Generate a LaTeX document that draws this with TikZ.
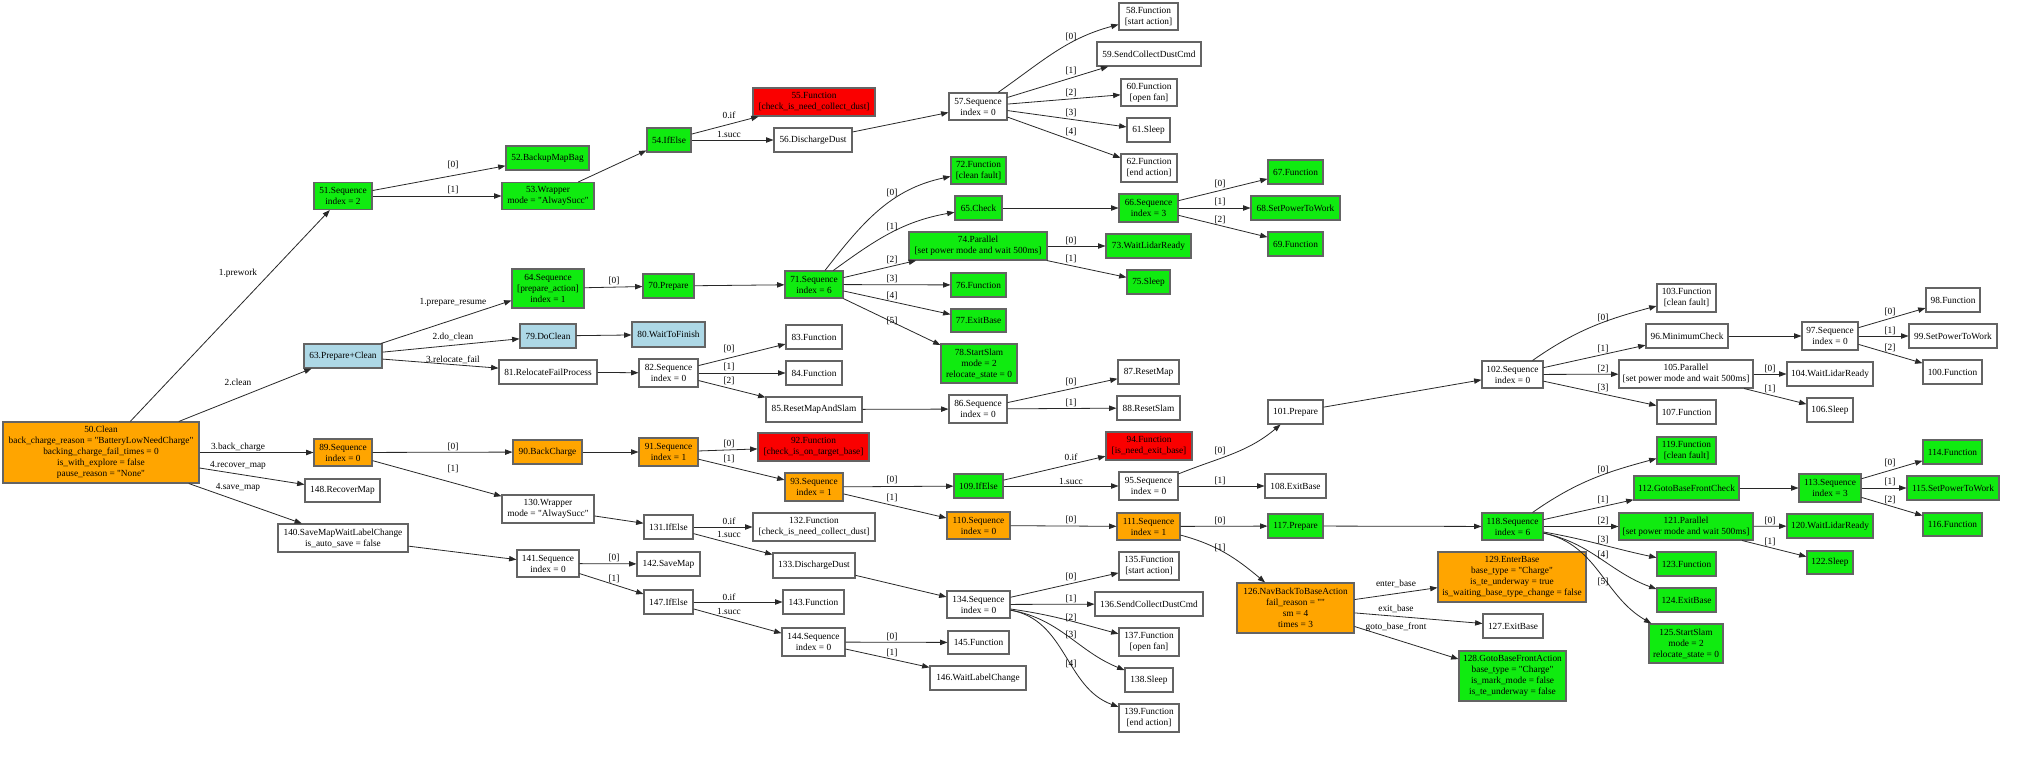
\documentclass[tikz,border=0pt]{standalone}
\usepackage{fontspec}
\setmainfont{Liberation Serif}
\usetikzlibrary{arrows.meta}
\definecolor{gfill}{RGB}{16,235,16}
\definecolor{ofill}{RGB}{255,165,0}
\definecolor{rfill}{RGB}{250,0,0}
\definecolor{bfill}{RGB}{173,216,230}
\definecolor{bordc}{RGB}{100,100,100}
\definecolor{edgec}{RGB}{40,40,40}
\newcommand\nodefont{\fontsize{7}{8.25}\selectfont}
\newcommand\dq{\textquotedbl}
\tikzset{
  box/.style={draw=bordc, line width=0.8pt, inner sep=0pt, align=center, font=\nodefont, fill=white},
  bx/.style 2 args={minimum width=#1*0.75pt, minimum height=#2*0.75pt},
  gn/.style={fill=gfill}, og/.style={fill=ofill}, rd/.style={fill=rfill}, lb/.style={fill=bfill},
  conn/.style={draw=edgec, line width=0.6pt, -{Triangle[length=5.5pt,width=4pt]}},
  lbl/.style={font=\nodefont, inner sep=0pt}
}
\begin{document}
\begin{tikzpicture}[x=0.75pt,y=0.75pt]
\fill[white] (0,0) rectangle (2039,-764);
\useasboundingbox (0,0) rectangle (2039,-764);
% ---- nodes
\node[box,og,bx={196}{61}] (n50) at (101,-452.5) {50.Clean\\back\_charge\_reason = \dq BatteryLowNeedCharge\dq\\backing\_charge\_fail\_times = 0\\is\_with\_explore = false\\pause\_reason = \dq None\dq};
\node[box,gn,bx={58}{27}] (n51) at (343,-196) {51.Sequence\\index = 2};
\node[box,gn,bx={83}{24}] (n52) at (547.5,-158) {52.BackupMapBag};
\node[box,gn,bx={92}{27}] (n53) at (548,-196) {53.Wrapper\\mode = \dq AlwaySucc\dq};
\node[box,gn,bx={44}{24}] (n54) at (669,-140) {54.IfElse};
\node[box,rd,bx={122}{28}] (n55) at (814,-102) {55.Function\\{[}check\_is\_need\_collect\_dust]};
\node[box,bx={78}{24}] (n56) at (813,-140) {56.DischargeDust};
\node[box,bx={58}{27}] (n57) at (978,-106.5) {57.Sequence\\index = 0};
\node[box,bx={59}{27}] (n58) at (1148.5,-16.5) {58.Function\\{[}start action]};
\node[box,bx={104}{24}] (n59) at (1149,-54) {59.SendCollectDustCmd};
\node[box,bx={56}{27}] (n60) at (1149,-92.5) {60.Function\\{[}open fan]};
\node[box,bx={43}{24}] (n61) at (1148.5,-130) {61.Sleep};
\node[box,bx={56}{28}] (n62) at (1149,-168) {62.Function\\{[}end action]};
\node[box,lb,bx={78}{24}] (n63) at (343,-356) {63.Prepare+Clean};
\node[box,gn,bx={72}{39}] (n64) at (548,-288.5) {64.Sequence\\{[}prepare\_action]\\index = 1};
\node[box,gn,bx={47}{24}] (n65) at (978.5,-208) {65.Check};
\node[box,gn,bx={59}{28}] (n66) at (1148.5,-208) {66.Sequence\\index = 3};
\node[box,gn,bx={55}{24}] (n67) at (1295.5,-172) {67.Function};
\node[box,gn,bx={89}{24}] (n68) at (1295.5,-208) {68.SetPowerToWork};
\node[box,gn,bx={55}{24}] (n69) at (1295.5,-244) {69.Function};
\node[box,gn,bx={51}{24}] (n70) at (668.5,-286) {70.Prepare};
\node[box,gn,bx={58}{27}] (n71) at (814,-284.5) {71.Sequence\\index = 6};
\node[box,gn,bx={55}{27}] (n72) at (978.5,-170.5) {72.Function\\{[}clean fault]};
\node[box,gn,bx={85}{24}] (n73) at (1148.5,-246) {73.WaitLidarReady};
\node[box,gn,bx={138}{28}] (n74) at (978,-246) {74.Parallel\\{[}set power mode and wait 500ms]};
\node[box,gn,bx={43}{24}] (n75) at (1148.5,-282) {75.Sleep};
\node[box,gn,bx={55}{24}] (n76) at (978.5,-285) {76.Function};
\node[box,gn,bx={55}{23}] (n77) at (978.5,-320.5) {77.ExitBase};
\node[box,gn,bx={76}{39}] (n78) at (979,-363.5) {78.StartSlam\\mode = 2\\relocate\_state = 0};
\node[box,lb,bx={56}{24}] (n79) at (548,-336) {79.DoClean};
\node[box,lb,bx={73}{25}] (n80) at (668.5,-334.5) {80.WaitToFinish};
\node[box,bx={98}{24}] (n81) at (548,-372) {81.RelocateFailProcess};
\node[box,bx={59}{28}] (n82) at (668.5,-373) {82.Sequence\\index = 0};
\node[box,bx={56}{24}] (n83) at (814,-337) {83.Function};
\node[box,bx={56}{24}] (n84) at (814,-373) {84.Function};
\node[box,bx={96}{25}] (n85) at (814,-409.5) {85.ResetMapAndSlam};
\node[box,bx={58}{28}] (n86) at (978,-409) {86.Sequence\\index = 0};
\node[box,bx={61}{24}] (n87) at (1148.5,-372) {87.ResetMap};
\node[box,bx={63}{24}] (n88) at (1148.5,-408) {88.ResetSlam};
\node[box,og,bx={58}{27}] (n89) at (343,-452.5) {89.Sequence\\index = 0};
\node[box,og,bx={69}{24}] (n90) at (547.5,-452) {90.BackCharge};
\node[box,og,bx={59}{28}] (n91) at (668.5,-452) {91.Sequence\\index = 1};
\node[box,rd,bx={111}{28}] (n92) at (813.5,-447) {92.Function\\{[}check\_is\_on\_target\_base]};
\node[box,og,bx={58}{28}] (n93) at (814,-487) {93.Sequence\\index = 1};
\node[box,rd,bx={86}{28}] (n94) at (1149,-446) {94.Function\\{[}is\_need\_exit\_base]};
\node[box,bx={59}{28}] (n95) at (1148.5,-486) {95.Sequence\\index = 0};
\node[box,bx={82}{24}] (n96) at (1687,-336) {96.MinimumCheck};
\node[box,bx={56}{28}] (n97) at (1830,-336) {97.Sequence\\index = 0};
\node[box,bx={54}{24}] (n98) at (1953,-300) {98.Function};
\node[box,bx={88}{24}] (n99) at (1953,-336) {99.SetPowerToWork};
\node[box,bx={59}{24}] (n100) at (1952.5,-372) {100.Function};
\node[box,bx={55}{24}] (n101) at (1295.5,-412) {101.Prepare};
\node[box,bx={61}{27}] (n102) at (1512.5,-374.5) {102.Sequence\\index = 0};
\node[box,bx={59}{28}] (n103) at (1686.5,-298) {103.Function\\{[}clean fault]};
\node[box,bx={86}{24}] (n104) at (1830,-374) {104.WaitLidarReady};
\node[box,bx={134}{28}] (n105) at (1686,-374) {105.Parallel\\{[}set power mode and wait 500ms]};
\node[box,bx={46}{24}] (n106) at (1830,-410) {106.Sleep};
\node[box,bx={59}{24}] (n107) at (1686.5,-412) {107.Function};
\node[box,bx={61}{24}] (n108) at (1295.5,-486) {108.ExitBase};
\node[box,gn,bx={49}{24}] (n109) at (978.5,-486) {109.IfElse};
\node[box,og,bx={63}{27}] (n110) at (978.5,-525.5) {110.Sequence\\index = 0};
\node[box,og,bx={63}{27}] (n111) at (1148.5,-526.5) {111.Sequence\\index = 1};
\node[box,gn,bx={105}{24}] (n112) at (1686.5,-488) {112.GotoBaseFrontCheck};
\node[box,gn,bx={62}{28}] (n113) at (1830,-488) {113.Sequence\\index = 3};
\node[box,gn,bx={59}{24}] (n114) at (1952.5,-452) {114.Function};
\node[box,gn,bx={92}{24}] (n115) at (1953,-488) {115.SetPowerToWork};
\node[box,gn,bx={59}{23}] (n116) at (1952.5,-524.5) {116.Function};
\node[box,gn,bx={55}{24}] (n117) at (1295.5,-526) {117.Prepare};
\node[box,gn,bx={61}{27}] (n118) at (1512.5,-526.5) {118.Sequence\\index = 6};
\node[box,gn,bx={59}{27}] (n119) at (1686.5,-450.5) {119.Function\\{[}clean fault]};
\node[box,gn,bx={86}{24}] (n120) at (1830,-526) {120.WaitLidarReady};
\node[box,gn,bx={134}{27}] (n121) at (1686,-526.5) {121.Parallel\\{[}set power mode and wait 500ms]};
\node[box,gn,bx={46}{23}] (n122) at (1830,-562.5) {122.Sleep};
\node[box,gn,bx={59}{24}] (n123) at (1686.5,-564) {123.Function};
\node[box,gn,bx={59}{24}] (n124) at (1686.5,-600) {124.ExitBase};
\node[box,gn,bx={74}{39}] (n125) at (1686,-643.5) {125.StartSlam\\mode = 2\\relocate\_state = 0};
\node[box,og,bx={117}{50}] (n126) at (1295.5,-608) {126.NavBackToBaseAction\\fail\_reason = \dq\dq\\sm = 4\\times = 3};
\node[box,bx={60}{24}] (n127) at (1513,-626) {127.ExitBase};
\node[box,gn,bx={107}{50}] (n128) at (1512.5,-676) {128.GotoBaseFrontAction\\base\_type = \dq Charge\dq\\is\_mark\_mode = false\\is\_te\_underway = false};
\node[box,og,bx={148}{50}] (n129) at (1512,-577) {129.EnterBase\\base\_type = \dq Charge\dq\\is\_te\_underway = true\\is\_waiting\_base\_type\_change = false};
\node[box,bx={92}{28}] (n130) at (548,-509) {130.Wrapper\\mode = \dq AlwaySucc\dq};
\node[box,bx={49}{24}] (n131) at (668.5,-527) {131.IfElse};
\node[box,bx={122}{28}] (n132) at (814,-527) {132.Function\\{[}check\_is\_need\_collect\_dust]};
\node[box,bx={82}{25}] (n133) at (814,-565.5) {133.DischargeDust};
\node[box,bx={63}{27}] (n134) at (978.5,-604.5) {134.Sequence\\index = 0};
\node[box,bx={60}{28}] (n135) at (1149,-566) {135.Function\\{[}start action]};
\node[box,bx={108}{24}] (n136) at (1149,-604) {136.SendCollectDustCmd};
\node[box,bx={60}{28}] (n137) at (1149,-642) {137.Function\\{[}open fan]};
\node[box,bx={48}{24}] (n138) at (1149,-680) {138.Sleep};
\node[box,bx={60}{28}] (n139) at (1149,-718) {139.Function\\{[}end action]};
\node[box,bx={130}{28}] (n140) at (343,-538) {140.SaveMapWaitLabelChange\\is\_auto\_save = false};
\node[box,bx={62}{27}] (n141) at (548,-563.5) {141.Sequence\\index = 0};
\node[box,bx={63}{24}] (n142) at (668.5,-564) {142.SaveMap};
\node[box,bx={61}{24}] (n143) at (813.5,-602) {143.Function};
\node[box,bx={63}{28}] (n144) at (813.5,-642) {144.Sequence\\index = 0};
\node[box,bx={61}{23}] (n145) at (978.5,-642.5) {145.Function};
\node[box,bx={96}{24}] (n146) at (978,-678) {146.WaitLabelChange};
\node[box,bx={49}{24}] (n147) at (668.5,-602) {147.IfElse};
\node[box,bx={75}{23}] (n148) at (342.5,-490.5) {148.RecoverMap};
% ---- edges
\draw[conn] (n50) -- (n51);
\draw[conn] (n50) -- (n63);
\draw[conn] (n50) -- (n89);
\draw[conn] (n50) -- (n148);
\draw[conn] (n50) -- (n140);
\draw[conn] (n51) -- (n52);
\draw[conn] (n51) -- (n53);
\draw[conn] (n53) -- (n54);
\draw[conn] (n54) -- (n55);
\draw[conn] (n54) -- (n56);
\draw[conn] (n56) -- (n57);
\draw[conn] (n57) to[out=35,in=195] (n58);
\draw[conn] (n57) -- (n59);
\draw[conn] (n57) -- (n60);
\draw[conn] (n57) -- (n61);
\draw[conn] (n57) -- (n62);
\draw[conn] (n63) -- (n64);
\draw[conn] (n63) -- (n79);
\draw[conn] (n63) -- (n81);
\draw[conn] (n64) -- (n70);
\draw[conn] (n70) -- (n71);
\draw[conn] (n71) to[out=52,in=192] (n72);
\draw[conn] (n71) to[out=36,in=190] (n65);
\draw[conn] (n71) -- (n74);
\draw[conn] (n71) -- (n76);
\draw[conn] (n71) -- (n77);
\draw[conn] (n71) -- (n78);
\draw[conn] (n65) -- (n66);
\draw[conn] (n66) -- (n67);
\draw[conn] (n66) -- (n68);
\draw[conn] (n66) -- (n69);
\draw[conn] (n74) -- (n73);
\draw[conn] (n74) -- (n75);
\draw[conn] (n79) -- (n80);
\draw[conn] (n81) -- (n82);
\draw[conn] (n82) -- (n83);
\draw[conn] (n82) -- (n84);
\draw[conn] (n82) -- (n85);
\draw[conn] (n85) -- (n86);
\draw[conn] (n86) -- (n87);
\draw[conn] (n86) -- (n88);
\draw[conn] (n89) -- (n90);
\draw[conn] (n89) -- (n130);
\draw[conn] (n90) -- (n91);
\draw[conn] (n91) -- (n92);
\draw[conn] (n91) -- (n93);
\draw[conn] (n93) -- (n109);
\draw[conn] (n93) -- (n110);
\draw[conn] (n109) -- (n94);
\draw[conn] (n109) -- (n95);
\draw[conn] (n95) to[out=22,in=220] (n101);
\draw[conn] (n95) -- (n108);
\draw[conn] (n101) -- (n102);
\draw[conn] (n102) to[out=35,in=195] (n103);
\draw[conn] (n102) -- (n96);
\draw[conn] (n102) -- (n105);
\draw[conn] (n102) -- (n107);
\draw[conn] (n96) -- (n97);
\draw[conn] (n97) -- (n98);
\draw[conn] (n97) -- (n99);
\draw[conn] (n97) -- (n100);
\draw[conn] (n105) -- (n104);
\draw[conn] (n105) -- (n106);
\draw[conn] (n110) -- (n111);
\draw[conn] (n111) -- (n117);
\draw[conn] (n111) to[out=-15,in=140] (n126);
\draw[conn] (n117) -- (n118);
\draw[conn] (n118) to[out=35,in=195] (n119);
\draw[conn] (n118) -- (n112);
\draw[conn] (n118) -- (n121);
\draw[conn] (n118) to[out=-10,in=168] (n123);
\draw[conn] (n118) to[out=-12,in=160] (n124);
\draw[conn] (n118) to[out=-12,in=150] (n125);
\draw[conn] (n112) -- (n113);
\draw[conn] (n113) -- (n114);
\draw[conn] (n113) -- (n115);
\draw[conn] (n113) -- (n116);
\draw[conn] (n121) -- (n120);
\draw[conn] (n121) -- (n122);
\draw[conn] (n126) -- (n129);
\draw[conn] (n126) -- (n127);
\draw[conn] (n126) -- (n128);
\draw[conn] (n130) -- (n131);
\draw[conn] (n131) -- (n132);
\draw[conn] (n131) -- (n133);
\draw[conn] (n133) -- (n134);
\draw[conn] (n134) -- (n135);
\draw[conn] (n134) -- (n136);
\draw[conn] (n134) to[out=-8,in=165] (n137);
\draw[conn] (n134) to[out=-10,in=158] (n138);
\draw[conn] (n134) to[out=-10,in=160] (n139);
\draw[conn] (n140) -- (n141);
\draw[conn] (n141) -- (n142);
\draw[conn] (n141) -- (n147);
\draw[conn] (n147) -- (n143);
\draw[conn] (n147) -- (n144);
\draw[conn] (n144) -- (n145);
\draw[conn] (n144) -- (n146);
% ---- edge labels
\node[lbl] (e1) at (238,-273) {1.prework};
\node[lbl] (e2) at (238,-382) {2.clean};
\node[lbl] (e3) at (238,-447) {3.back\_charge};
\node[lbl] (e4) at (238,-465) {4.recover\_map};
\node[lbl] (e5) at (238,-487) {4.save\_map};
\node[lbl] (e6) at (453,-165) {[0]};
\node[lbl] (e7) at (453,-190) {[1]};
\node[lbl] (e8) at (453,-302) {1.prepare\_resume};
\node[lbl] (e9) at (453,-337) {2.do\_clean};
\node[lbl] (e10) at (453,-360) {3.relocate\_fail};
\node[lbl] (e11) at (453,-447) {[0]};
\node[lbl] (e12) at (453,-469) {[1]};
\node[lbl] (e13) at (729,-115) {0.if};
\node[lbl] (e14) at (729,-134) {1.succ};
\node[lbl] (e15) at (614,-281) {[0]};
\node[lbl] (e16) at (729,-349) {[0]};
\node[lbl] (e17) at (729,-367) {[1]};
\node[lbl] (e18) at (729,-381) {[2]};
\node[lbl] (e19) at (729,-444) {[0]};
\node[lbl] (e20) at (729,-459) {[1]};
\node[lbl] (e21) at (729,-521) {0.if};
\node[lbl] (e22) at (729,-534) {1.succ};
\node[lbl] (e23) at (614,-558) {[0]};
\node[lbl] (e24) at (614,-579) {[1]};
\node[lbl] (e25) at (729,-597) {0.if};
\node[lbl] (e26) at (729,-611) {1.succ};
\node[lbl] (e27) at (892,-193) {[0]};
\node[lbl] (e28) at (892,-227) {[1]};
\node[lbl] (e29) at (892,-260) {[2]};
\node[lbl] (e30) at (892,-279) {[3]};
\node[lbl] (e31) at (892,-296) {[4]};
\node[lbl] (e32) at (892,-321) {[5]};
\node[lbl] (e33) at (892,-480) {[0]};
\node[lbl] (e34) at (892,-498) {[1]};
\node[lbl] (e35) at (892,-637) {[0]};
\node[lbl] (e36) at (892,-653) {[1]};
\node[lbl] (e37) at (1071,-37) {[0]};
\node[lbl] (e38) at (1071,-71) {[1]};
\node[lbl] (e39) at (1071,-93) {[2]};
\node[lbl] (e40) at (1071,-113) {[3]};
\node[lbl] (e41) at (1071,-132) {[4]};
\node[lbl] (e42) at (1071,-241) {[0]};
\node[lbl] (e43) at (1071,-259) {[1]};
\node[lbl] (e44) at (1071,-382) {[0]};
\node[lbl] (e45) at (1071,-403) {[1]};
\node[lbl] (e46) at (1071,-457) {0.if};
\node[lbl] (e47) at (1071,-481) {1.succ};
\node[lbl] (e48) at (1071,-520) {[0]};
\node[lbl] (e49) at (1071,-577) {[0]};
\node[lbl] (e50) at (1071,-599) {[1]};
\node[lbl] (e51) at (1071,-618) {[2]};
\node[lbl] (e52) at (1071,-635) {[3]};
\node[lbl] (e53) at (1071,-664) {[4]};
\node[lbl] (e54) at (1220,-184) {[0]};
\node[lbl] (e55) at (1220,-202) {[1]};
\node[lbl] (e56) at (1220,-220) {[2]};
\node[lbl] (e57) at (1220,-451) {[0]};
\node[lbl] (e58) at (1220,-481) {[1]};
\node[lbl] (e59) at (1220,-521) {[0]};
\node[lbl] (e60) at (1220,-548) {[1]};
\node[lbl] (e61) at (1396,-584) {enter\_base};
\node[lbl] (e62) at (1396,-609) {exit\_base};
\node[lbl] (e63) at (1396,-627) {goto\_base\_front};
\node[lbl] (e64) at (1603,-318) {[0]};
\node[lbl] (e65) at (1603,-349) {[1]};
\node[lbl] (e66) at (1603,-369) {[2]};
\node[lbl] (e67) at (1603,-388) {[3]};
\node[lbl] (e68) at (1603,-470) {[0]};
\node[lbl] (e69) at (1603,-500) {[1]};
\node[lbl] (e70) at (1603,-521) {[2]};
\node[lbl] (e71) at (1603,-540) {[3]};
\node[lbl] (e72) at (1603,-555) {[4]};
\node[lbl] (e73) at (1603,-582) {[5]};
\node[lbl] (e74) at (1770,-369) {[0]};
\node[lbl] (e75) at (1770,-389) {[1]};
\node[lbl] (e76) at (1770,-521) {[0]};
\node[lbl] (e77) at (1770,-542) {[1]};
\node[lbl] (e78) at (1890,-312) {[0]};
\node[lbl] (e79) at (1890,-331) {[1]};
\node[lbl] (e80) at (1890,-348) {[2]};
\node[lbl] (e81) at (1890,-463) {[0]};
\node[lbl] (e82) at (1890,-482) {[1]};
\node[lbl] (e83) at (1890,-500) {[2]};
\end{tikzpicture}
\end{document}
